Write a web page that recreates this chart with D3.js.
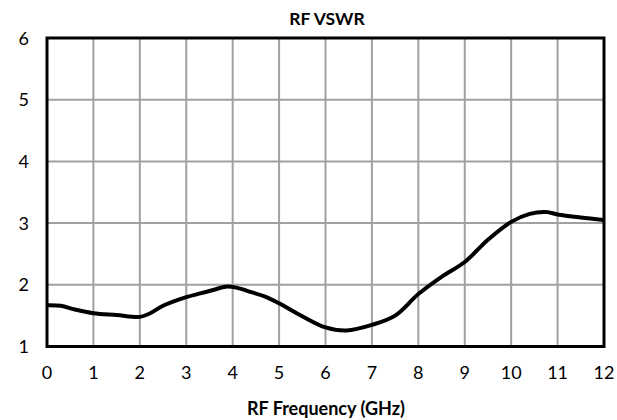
<!DOCTYPE html>
<html><head><meta charset="utf-8">
<script src="https://cdn.jsdelivr.net/npm/d3@7"></script>
<style>body{margin:0;background:#fff}svg{display:block;font-family:Lato,"Open Sans",sans-serif}</style>
</head><body><svg id="c" width="617" height="420"></svg>
<script>
const xTicks = [0,1,2,3,4,5,6,7,8,9,10,11,12];
const yTicks = [1,2,3,4,5,6];
const freq = [0,0.3,0.6,1,1.5,2,2.2,2.5,3,3.3,3.6,3.85,4.1,4.4,4.7,5,5.5,6,6.45,7,7.5,8,8.5,9,9.5,10,10.4,10.75,11,11.5,12];
const vswr = [1.67,1.66,1.6,1.54,1.51,1.48,1.53,1.66,1.8,1.86,1.92,1.97,1.95,1.88,1.81,1.7,1.49,1.31,1.26,1.35,1.5,1.85,2.13,2.37,2.73,3.02,3.15,3.18,3.14,3.09,3.05];

const svg = d3.select("#c");
const L=47, R=604, T=38, B=346.5;
const x = d3.scaleLinear().domain([0,12]).range([L,R]);
const y = d3.scaleLinear().domain([1,6]).range([B,T]);

const g = svg.append("g");
g.selectAll(".gx").data(xTicks.slice(1,-1)).enter().append("line")
  .attr("x1",d=>x(d)).attr("x2",d=>x(d)).attr("y1",T).attr("y2",B)
  .attr("stroke","#a0a0a0").attr("stroke-width",2);
g.selectAll(".gy").data(yTicks.slice(1,-1)).enter().append("line")
  .attr("y1",d=>y(d)).attr("y2",d=>y(d)).attr("x1",L).attr("x2",R)
  .attr("stroke","#a0a0a0").attr("stroke-width",2);

g.append("path").datum(freq.map((f,i)=>[f,vswr[i]]))
  .attr("fill","none").attr("stroke","#000").attr("stroke-width",4).attr("stroke-linejoin","round")
  .attr("d", d3.line().x(d=>x(d[0])).y(d=>y(d[1])).curve(d3.curveCatmullRom.alpha(0.5)));

g.append("rect").attr("x",L).attr("y",T).attr("width",R-L).attr("height",B-T)
  .attr("fill","none").attr("stroke","#000").attr("stroke-width",3);

svg.selectAll(".xl").data(xTicks).enter().append("text")
  .attr("x",d=>x(d)).attr("y",379).attr("text-anchor","middle")
  .attr("font-size",18).attr("fill","#000").text(d=>d);
svg.selectAll(".yl").data(yTicks).enter().append("text")
  .attr("x",29).attr("y",d=>y(d)+6.5).attr("text-anchor","end")
  .attr("font-size",18).attr("fill","#000").text(d=>d);

svg.append("text").attr("x",327).attr("y",25).attr("text-anchor","middle")
  .attr("font-size",17.5).attr("font-weight","bold").text("RF VSWR");
svg.append("text").attr("x",326).attr("y",415).attr("text-anchor","middle")
  .attr("font-size",18).attr("font-weight","bold").text("RF Frequency (GHz)");
</script></body></html>
